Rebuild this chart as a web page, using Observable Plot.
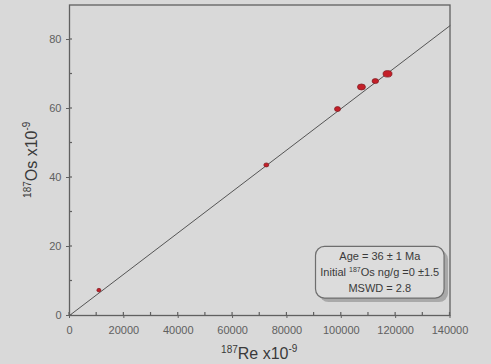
<!DOCTYPE html>
<html><head><meta charset="utf-8">
<script src="https://cdn.jsdelivr.net/npm/d3@7"></script>
<script src="https://cdn.jsdelivr.net/npm/@observablehq/plot@0.6"></script>
<style>
html,body{margin:0;padding:0;background:#d9d9d9;overflow:hidden;}
svg{display:block;}
</style>
</head><body><div id="chart"></div>
<script>
// Data
const re187 = [11000, 72600, 98800, 107600, 112700, 117200];
const os187 = [7.2, 43.5, 59.7, 66.1, 67.8, 69.9];
const ellipseW = [4, 5, 6, 8, 6.5, 9];   // error-ellipse widths (px)
const ellipseH = [3.6, 4, 5, 6, 5, 6.5];   // error-ellipse heights (px)
const isochronRe = [0, 140000];
const isochronOs = [0, 84];
const xMajorTicks = [0, 20000, 40000, 60000, 80000, 100000, 120000, 140000];
const xMinorTicks = [10000, 30000, 50000, 70000, 90000, 110000, 130000];
const yMajorTicks = [0, 20, 40, 60, 80];
const yMinorTicks = [10, 30, 50, 70];
const xDomain = [0, 140000];
const yDomain = [0, 90];
const boxLines = ["Age = 36 ± 1 Ma", "Initial |187|Os ng/g =0 ±1.5", "MSWD = 2.8"];

const points = re187.map((x, i) => ({x, y: os187[i], w: ellipseW[i], h: ellipseH[i]}));
const line = isochronRe.map((x, i) => ({x, y: isochronOs[i]}));

const W = 491, H = 364;
const plot = Plot.plot({
  width: W, height: H,
  marginLeft: 69, marginRight: 41.5, marginTop: 4.5, marginBottom: 49,
  style: {background: "#d9d9d9", color: "#5a5a5a", fontFamily: "'Liberation Sans', Arial, sans-serif", fontSize: "11px", overflow: "visible"},
  x: {domain: xDomain, label: null},
  y: {domain: yDomain, label: null},
  marks: [
    Plot.frame({stroke: "#606060", strokeWidth: 1.3}),
    Plot.axisX({ticks: xMajorTicks, tickSize: 3, tickPadding: 8, tickFormat: d3.format("d"), stroke: "#606060", fill: "#606060", fontSize: 11}),
    Plot.axisY({ticks: yMajorTicks, tickSize: 3, tickPadding: 5, tickFormat: d3.format("d"), stroke: "#606060", fill: "#606060", fontSize: 11}),
    Plot.line(line, {x: "x", y: "y", stroke: "#555", strokeWidth: 1})
  ]
});
document.getElementById("chart").append(plot);

const sx = plot.scale("x"), sy = plot.scale("y");
const svg = d3.select(plot);
const X = v => sx.apply(v), Y = v => sy.apply(v);
const x0 = X(xDomain[0]), y0 = Y(yDomain[0]);

// inner tick segments
const g = svg.append("g").attr("stroke", "#606060").attr("stroke-width", 1.2);
xMajorTicks.concat(xMinorTicks).forEach(t => g.append("line").attr("x1", X(t)).attr("x2", X(t)).attr("y1", y0).attr("y2", y0 - 3));
xMinorTicks.forEach(t => g.append("line").attr("x1", X(t)).attr("x2", X(t)).attr("y1", y0).attr("y2", y0 + 1));
yMajorTicks.concat(yMinorTicks).forEach(t => g.append("line").attr("y1", Y(t)).attr("y2", Y(t)).attr("x1", x0).attr("x2", x0 + 3));

// error ellipses
svg.append("g").selectAll("ellipse").data(points).join("ellipse")
  .attr("cx", d => X(d.x)).attr("cy", d => Y(d.y))
  .attr("rx", d => d.w / 2).attr("ry", d => d.h / 2)
  .attr("fill", "#c41f28").attr("stroke", "#7a1a20").attr("stroke-width", 0.7);

// annotation box (in data coordinates)
const bx1 = X(90700), bx2 = X(138000), by1 = Y(19.9), by2 = Y(4.9);
const box = svg.append("g");
box.append("rect").attr("x", bx1 + 4).attr("y", by1 + 4).attr("width", bx2 - bx1).attr("height", by2 - by1)
  .attr("rx", 9).attr("fill", "#a9a9a9");
box.append("rect").attr("x", bx1).attr("y", by1).attr("width", bx2 - bx1).attr("height", by2 - by1)
  .attr("rx", 9).attr("fill", "#dcdcdc").attr("stroke", "#6e6e6e").attr("stroke-width", 1.2);
const cx = (bx1 + bx2) / 2;
boxLines.forEach((s, i) => {
  const t = box.append("text").attr("x", cx).attr("y", by1 + 14 + i * 16)
    .attr("text-anchor", "middle").attr("fill", "#3a3a3a")
    .attr("font-family", "'Liberation Sans', Arial, sans-serif").attr("font-size", 11);
  s.split("|").forEach((part, j) => {
    const sp = t.append("tspan").text(part);
    if (j === 1) sp.attr("font-size", 7).attr("dy", -4);
    if (j === 2) sp.attr("dy", 4);
  });
});

// axis titles
const xt = svg.append("text").attr("x", (X(xDomain[0]) + X(xDomain[1])) / 2).attr("y", 359)
  .attr("text-anchor", "middle").attr("fill", "#3a3a3a")
  .attr("font-family", "'Liberation Sans', Arial, sans-serif").attr("font-size", 16);
xt.append("tspan").text("187").attr("font-size", 10).attr("dy", -6);
xt.append("tspan").text("Re x10").attr("dy", 6);
xt.append("tspan").text("-9").attr("font-size", 10).attr("dy", -7);

const ycx = 37, ycy = (Y(yDomain[0]) + Y(yDomain[1])) / 2;
const yt = svg.append("text").attr("transform", `translate(${ycx},${ycy}) rotate(-90)`)
  .attr("text-anchor", "middle").attr("fill", "#3a3a3a")
  .attr("font-family", "'Liberation Sans', Arial, sans-serif").attr("font-size", 16);
yt.append("tspan").text("187").attr("font-size", 10).attr("dy", -6);
yt.append("tspan").text("Os x10").attr("dy", 6);
yt.append("tspan").text("-9").attr("font-size", 10).attr("dy", -7);
</script>
</body></html>
